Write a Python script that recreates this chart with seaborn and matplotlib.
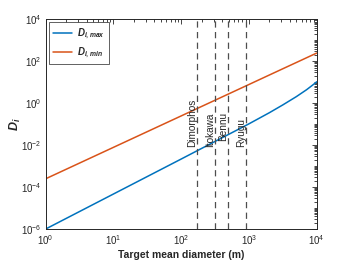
import numpy as np
import pandas as pd
import matplotlib
matplotlib.use("Agg")
import matplotlib.pyplot as plt
import seaborn as sns
from matplotlib.ticker import LogLocator, NullFormatter

# values (log-log)
diam = [1, 10, 100, 1000, 2000, 3160, 5000, 7080, 8900, 10000]
d_max = [1e-6, 10**-4.33, 10**-2.66, 10**-0.98, 10**-0.45, 10**-0.077,
         10**0.317, 10**0.647, 10**0.893, 10**1.027]
d_min = [2.5e-4, 7.9e-3, 0.25, 7.9, 22.4, 44.5, 88.4, 149.0, 210.0, 250.0]

targets = ["Dimorphos", "Itokawa", "Bennu", "Ryugu"]
target_diam = [170, 320, 490, 900]
label_y = [10**-2.1, 10**-2.1, 10**-1.8, 10**-2.1]

df = pd.DataFrame({
    "diam": diam * 2,
    "D": d_max + d_min,
    "serie": [r"$D_{i,max}$"] * len(diam) + [r"$D_{i,min}$"] * len(diam),
})

sns.set_style("white")
plt.rcParams["font.family"] = ["Liberation Sans", "DejaVu Sans"]
plt.rcParams["mathtext.fontset"] = "custom"
plt.rcParams["mathtext.it"] = "Liberation Sans:bold:italic"
plt.rcParams["mathtext.rm"] = "Liberation Sans:bold"
plt.rcParams["mathtext.bf"] = "Liberation Sans:bold"

fig = plt.figure(figsize=(3.5, 2.63), dpi=100)
ax = fig.add_axes([0.1306, 0.1293, 0.7743, 0.7966])

sns.lineplot(data=df, x="diam", y="D", hue="serie", ax=ax,
             palette=["#0072BD", "#D95319"], linewidth=1.1)

for name, xd, yl in zip(targets, target_diam, label_y):
    ax.axvline(xd, color="0.3", linestyle=(0, (5, 3.5)), linewidth=0.9)
    ax.text(xd, yl, name, rotation=90, ha="right", va="bottom", fontsize=7.2)

ax.set_xscale("log")
ax.set_yscale("log")
ax.set_xlim(1, 1e4)
ax.set_ylim(1e-6, 1e4)
ax.set_xticks([1, 10, 100, 1000, 10000])
ax.set_yticks([1e-6, 1e-4, 1e-2, 1, 1e2, 1e4])
ax.xaxis.set_minor_locator(LogLocator(base=10, subs=np.arange(1, 10), numticks=100))
ax.yaxis.set_minor_locator(LogLocator(base=10, subs=np.arange(1, 10), numticks=100))
ax.xaxis.set_minor_formatter(NullFormatter())
ax.yaxis.set_minor_formatter(NullFormatter())
ax.tick_params(which="both", direction="in", top=True, right=True,
               labelsize=7, pad=3, width=0.6)
ax.tick_params(which="major", length=3.5)
ax.tick_params(which="minor", length=2)
for s in ax.spines.values():
    s.set_linewidth(0.7)
    s.set_color("0.15")

ax.set_xlabel("Target mean diameter (m)", fontsize=7.5, fontweight="bold", labelpad=2)
ax.set_ylabel(r"$D_i$", fontsize=9)
ax.yaxis.set_label_coords(-0.085, 0.5)

leg = ax.legend(loc="upper left", fontsize=7, frameon=True, fancybox=False,
                handlelength=2.0, handletextpad=0.5, borderpad=0.4,
                labelspacing=0.45, borderaxespad=0.3)
leg.get_frame().set_edgecolor("0.1")
leg.get_frame().set_linewidth(0.6)
leg.set_title(None)

fig.savefig("out.png", dpi=100)
